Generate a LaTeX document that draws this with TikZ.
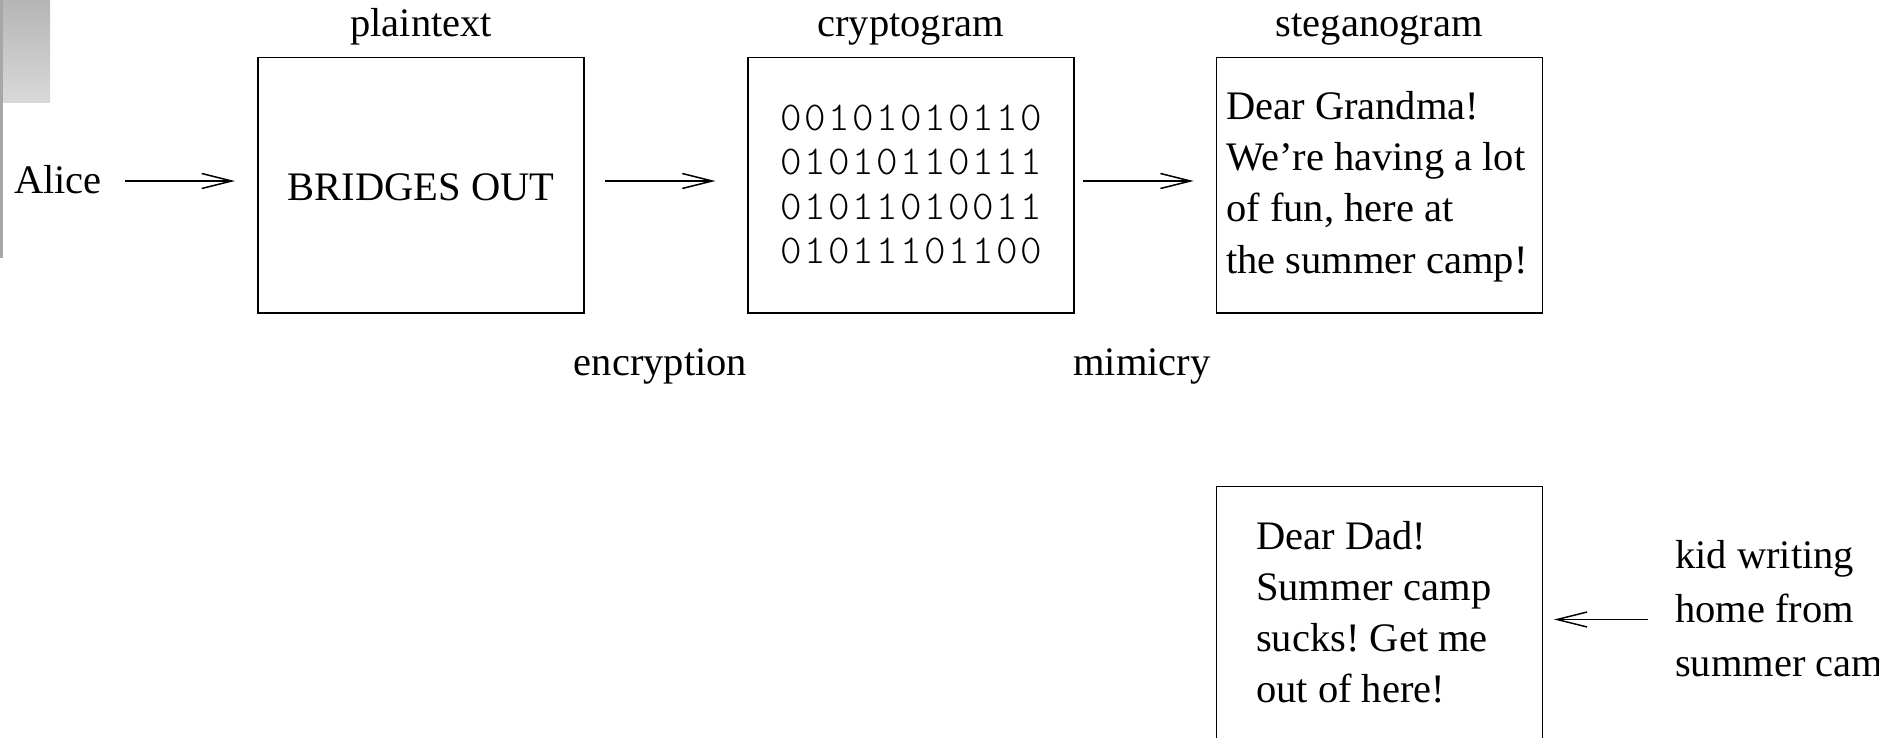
\documentclass[tikz,border=0pt]{standalone}
\usepackage{fontspec}
\setmainfont{Liberation Serif}
\newfontfamily\binfont[LetterSpace=6]{lmmonolt10-regular.otf}
\usetikzlibrary{arrows.meta}
\frenchspacing

\tikzset{
  txt/.style={inner sep=0pt, anchor=base west, font=\fontsize{40.5}{48}\selectfont},
  ctxt/.style={inner sep=0pt, anchor=base, font=\fontsize{40.5}{48}\selectfont},
  bits/.style={inner sep=0pt, anchor=base west, font=\binfont\fontsize{41}{48}\selectfont},
  msgbox/.style={draw, line width=1.6pt, minimum width=326pt, minimum height=255pt, inner sep=0pt},
  arr/.style={line width=1.5pt, -{Straight Barb[length=30pt,width=15pt,line width=1.5pt]}},
}

\begin{document}
\begin{tikzpicture}[x=1pt,y=-1pt]
  \useasboundingbox (0,0) rectangle (1879,738);
  \clip (0,0) rectangle (1879,738);

  % grey tab in the upper left corner
  \fill[gray!85!black!60] (0,0) rectangle (3,258);
  \shade[top color=black!29, bottom color=black!15] (3,0) rectangle (50,103);

  % message boxes
  \node[msgbox] (pt) at (421.2,185.2) {};
  \node[msgbox] (ct) at (910.7,185.2) {};
  \node[msgbox] (sg) at (1379.3,185.2) {};
  \node[msgbox, minimum height=320pt] (dad) at (1379.3,646.5) {};

  % box titles
  \node[ctxt] (ptlab) at (421.2,37) {plaintext};
  \node[ctxt] (ctlab) at (910.7,37) {cryptogram};
  \node[ctxt] (sglab) at (1379.3,37) {steganogram};

  % sender
  \node[txt] (alice) at (14,193.5) {Alice};

  % plaintext contents
  \node[ctxt] (bo) at (421.2,201) {BRIDGES OUT};

  % cryptogram contents
  \node[bits] (b1) at (780,131) {00101010110};
  \node[bits] (b2) at (780,175) {01010110111};
  \node[bits] (b3) at (780,219) {01011010011};
  \node[bits] (b4) at (780,263) {01011101100};

  % steganogram contents
  \node[txt] (s1) at (1226,120) {Dear Grandma!};
  \node[txt] (s2) at (1226,171) {We’re having a lot};
  \node[txt] (s3) at (1226,222) {of fun, here at};
  \node[txt] (s4) at (1226,273) {the summer camp!};

  % transformation labels
  \node[ctxt] (enc) at (660.5,375.5) {encryption};
  \node[ctxt] (mim) at (1142,375.5) {mimicry};

  % second letter
  \node[txt] (d1) at (1256,549) {Dear Dad!};
  \node[txt] (d2) at (1256,600) {Summer camp};
  \node[txt] (d3) at (1256,651) {sucks! Get me};
  \node[txt] (d4) at (1256,702) {out of here!};

  \node[txt] (k1) at (1675,568) {kid writing};
  \node[txt] (k2) at (1675,622) {home from};
  \node[txt] (k3) at (1675,676) {summer camp};

  % arrow end points
  \coordinate (a1s) at (124.6,181);
  \coordinate (a1e) at (234.9,181);
  \coordinate (a2s) at (605,181);
  \coordinate (a2e) at (715.4,181);
  \coordinate (a3s) at (1083,181);
  \coordinate (a3e) at (1193.5,181);
  \coordinate (a4s) at (1648,619.5);
  \coordinate (a4e) at (1554,619.5);

  \draw[arr] (a1s) -- (a1e);
  \draw[arr] (a2s) -- (a2e);
  \draw[arr] (a3s) -- (a3e);
  \draw[arr] (a4s) -- (a4e);
\end{tikzpicture}
\end{document}
